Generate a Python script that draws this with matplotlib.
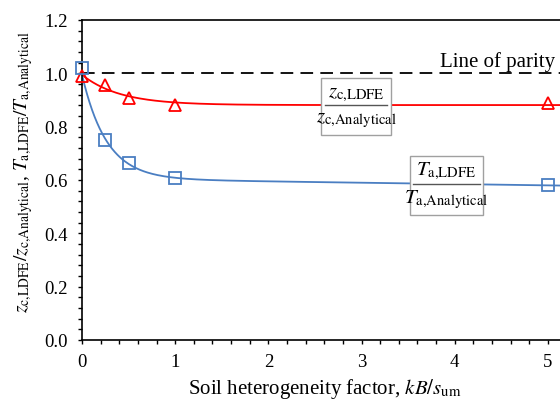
import numpy as np
import matplotlib
matplotlib.use("Agg")
import matplotlib.pyplot as plt
from matplotlib.ticker import MultipleLocator, FormatStrFormatter
from matplotlib.patches import Rectangle
from matplotlib.lines import Line2D

# Data
x_pts = [0.0, 0.25, 0.5, 1.0, 5.0]
zc_ratio = [0.990, 0.956, 0.907, 0.882, 0.888]
Ta_ratio = [1.019, 0.751, 0.665, 0.606, 0.580]
parity = 1.0

plt.rcParams['font.family'] = ['Liberation Serif', 'DejaVu Serif']
plt.rcParams['font.serif'] = ['Liberation Serif', 'DejaVu Serif']
plt.rcParams['mathtext.fontset'] = 'stix'

def fit_curve(x, y, x_new, anchor=None, linear=True):
    # least-squares fit of y = a + b*exp(-c x) (+ d*x)
    x = np.asarray(x); y = np.asarray(y)
    best = None
    for c in np.linspace(0.5, 10, 400):
        e = np.exp(-c * x)
        if anchor is not None:
            cols = [1 - e] + ([x] if linear else [])
            rhs = y - anchor * e
        else:
            cols = [np.ones_like(x), e] + ([x] if linear else [])
            rhs = y
        A = np.column_stack(cols)
        coef, *_ = np.linalg.lstsq(A, rhs, rcond=None)
        err = np.sum((A @ coef - rhs) ** 2)
        if best is None or err < best[0]:
            best = (err, c, coef)
    _, c, coef = best
    e = np.exp(-c * x_new)
    if anchor is not None:
        out = coef[0] * (1 - e) + anchor * e
        if linear:
            out = out + coef[1] * x_new
    else:
        out = coef[0] + coef[1] * e
        if linear:
            out = out + coef[2] * x_new
    return out

W, H = 560, 402
fig = plt.figure(figsize=(W/100, H/100), dpi=100)
ax = fig.add_axes([82/W, 61/H, 484.6/W, 320/H])

red = '#FF0000'
blue = '#4A7EC2'

xs = np.linspace(0, 5.4, 400)
ax.plot(xs, fit_curve(x_pts, zc_ratio, xs, anchor=None, linear=False), color=red, lw=1.3, zorder=2)
ax.plot(xs, fit_curve(x_pts, Ta_ratio, xs, anchor=0.995, linear=True), color=blue, lw=1.3, zorder=2)
ax.plot(x_pts, zc_ratio, linestyle='none', marker='^', mfc='none', mec=red,
        ms=8, mew=1.3, zorder=3, clip_on=False)
ax.plot(x_pts, Ta_ratio, linestyle='none', marker='s', mfc='none', mec=blue,
        ms=8, mew=1.3, zorder=3, clip_on=False)
ax.axhline(parity, color='black', lw=1.3, dashes=(7, 4), zorder=1)

ax.set_xlim(0, 5.2)
ax.set_ylim(0, 1.2)
ax.xaxis.set_major_locator(MultipleLocator(1))
ax.xaxis.set_minor_locator(MultipleLocator(0.2))
ax.yaxis.set_major_locator(MultipleLocator(0.2))
ax.yaxis.set_minor_locator(MultipleLocator(0.04))
ax.yaxis.set_major_formatter(FormatStrFormatter('%.1f'))
ax.tick_params(which='both', direction='out', length=3.2, width=1.0, labelsize=13.5)
ax.tick_params(axis='y', which='major', pad=7)
ax.tick_params(axis='x', which='major', pad=6)
for s in ax.spines.values():
    s.set_linewidth(1.2)

ax.set_xlabel(r'Soil heterogeneity factor, $kB/s_{\mathrm{um}}$', fontsize=15)
ax.xaxis.set_label_coords(0.5, -0.112)
ax.set_ylabel(r'$z_{\mathrm{c{,}LDFE}}/z_{\mathrm{c{,}Analytical}}$, $T_{\mathrm{a{,}LDFE}}/T_{\mathrm{a{,}Analytical}}$',
              fontsize=14)
ax.yaxis.set_label_coords(-0.097, 0.528)

def fy(py):
    return (H - py) / H

fig.text(555/W, fy(62), 'Line of parity', ha='right', va='center', fontsize=15)

def frac_box(x0, x1, y0, y1, num, den, ny, ly, dy, lx0, lx1):
    fig.add_artist(Rectangle((x0/W, fy(y1)), (x1-x0)/W, (y1-y0)/H, transform=fig.transFigure,
                             fc='white', ec='#A0A0A0', lw=1.0, zorder=5))
    xc = (x0 + x1) / 2 / W
    fig.text(xc, fy(ny), num, ha='center', va='center', fontsize=15, zorder=6)
    fig.text(xc, fy(dy), den, ha='center', va='center', fontsize=15, zorder=6)
    fig.add_artist(Line2D([lx0/W, lx1/W], [fy(ly), fy(ly)], transform=fig.transFigure,
                          color='#555555', lw=1.0, zorder=6))

frac_box(321, 391, 79, 136, r'$z_{\mathrm{c{,}LDFE}}$', r'$z_{\mathrm{c{,}Analytical}}$',
         94, 106, 120, 325, 387)
frac_box(410, 483, 157, 216, r'$T_{\mathrm{a{,}LDFE}}$', r'$T_{\mathrm{a{,}Analytical}}$',
         171, 185, 200, 413, 480)

fig.savefig('out.png', dpi=100)
